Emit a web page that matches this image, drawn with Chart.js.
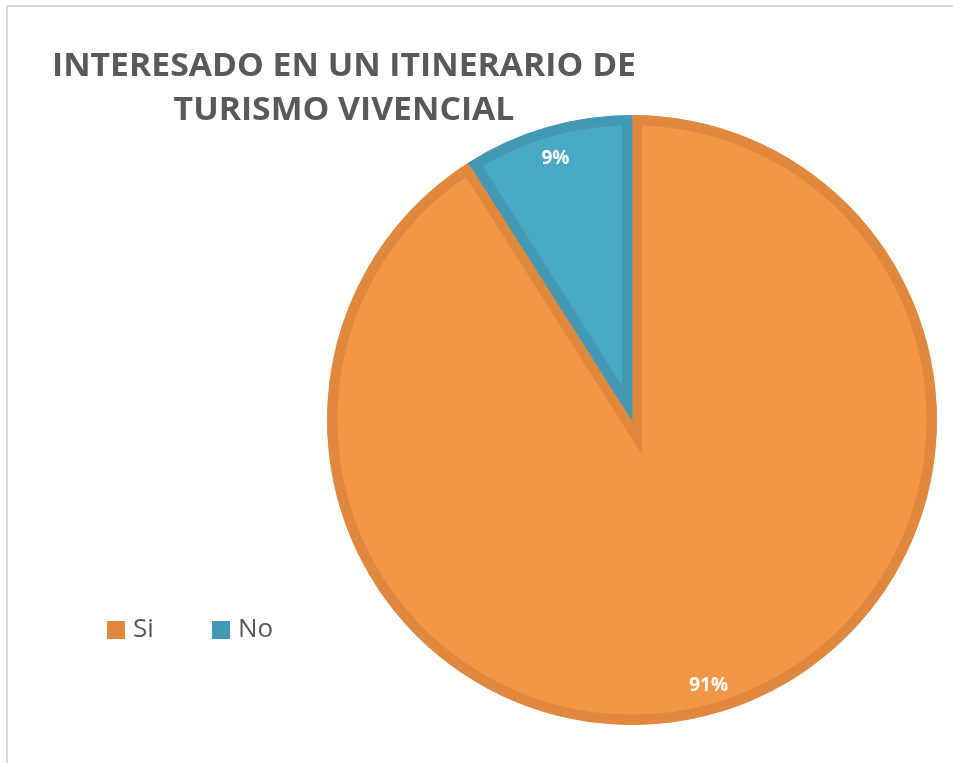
<!DOCTYPE html>
<html>
<head>
<meta charset="utf-8">
<script src="https://cdn.jsdelivr.net/npm/chart.js@4.4.1/dist/chart.umd.min.js"></script>
<style>
  html, body { margin: 0; padding: 0; background: #ffffff; }
  #wrap { width: 953px; height: 763px; position: relative; }
</style>
</head>
<body>
<div id="wrap"><canvas id="c" width="953" height="763"></canvas></div>
<script>
const titleLines = ["INTERESADO EN UN ITINERARIO DE", "TURISMO VIVENCIAL"];
const categories = ["Si", "No"];
const values = [91, 9];
const percentLabels = ["91%", "9%"];
const fillColors = ["#F39646", "#48A9C4"];
const edgeColors = ["#E0883E", "#4399B3"];

const framePlugin = {
  id: 'frame',
  beforeDraw(chart) {
    const ctx = chart.ctx;
    ctx.save();
    ctx.fillStyle = '#ffffff';
    ctx.fillRect(0, 0, chart.width, chart.height);
    ctx.strokeStyle = '#D9D9D9';
    ctx.lineWidth = 2;
    ctx.beginPath();
    ctx.moveTo(7, chart.height + 2);
    ctx.lineTo(7, 6);
    ctx.lineTo(chart.width + 2, 6);
    ctx.stroke();
    ctx.restore();
  }
};

const textPlugin = {
  id: 'texts',
  afterDraw(chart) {
    const ctx = chart.ctx;
    ctx.save();
    // Title
    ctx.fillStyle = '#595959';
    ctx.font = 'bold 33px "Open Sans"';
    ctx.textBaseline = 'alphabetic';
    ctx.textAlign = 'center';
    const w0 = ctx.measureText(titleLines[0]).width;
    const sx = 584 / w0;
    const cx = 344;
    const baselines = [76, 120];
    titleLines.forEach((t, i) => {
      ctx.save();
      ctx.translate(cx, baselines[i]);
      ctx.scale(sx, 1);
      ctx.fillText(t, 0, 0);
      ctx.restore();
    });

    // Data labels
    const meta = chart.getDatasetMeta(0);
    ctx.fillStyle = '#ffffff';
    ctx.font = 'bold 19px "Open Sans"';
    ctx.textBaseline = 'middle';
    ctx.textAlign = 'center';
    meta.data.forEach((arc, i) => {
      const p = arc.getProps(['x', 'y', 'startAngle', 'endAngle', 'outerRadius'], true);
      const mid = (p.startAngle + p.endAngle) / 2;
      const r = p.outerRadius * 0.9;
      ctx.fillText(percentLabels[i], p.x + Math.cos(mid) * r, p.y + Math.sin(mid) * r + 2);
    });

    // Legend
    const legendX = [107, 212];
    const legendY = 621;
    ctx.font = '26px "Open Sans"';
    ctx.textAlign = 'left';
    ctx.textBaseline = 'middle';
    categories.forEach((c, i) => {
      ctx.fillStyle = edgeColors[i];
      ctx.fillRect(legendX[i], legendY, 18, 18);
      ctx.fillStyle = '#595959';
      ctx.fillText(c, legendX[i] + 26, legendY + 9);
    });
    ctx.restore();
  }
};

new Chart(document.getElementById('c'), {
  type: 'pie',
  data: {
    labels: categories,
    datasets: [{
      data: values,
      backgroundColor: fillColors,
      borderColor: edgeColors,
      borderWidth: 10,
      borderAlign: 'inner',
      borderJoinStyle: 'miter',
      hoverOffset: 0
    }]
  },
  options: {
    responsive: false,
    animation: false,
    events: [],
    radius: 305,
    layout: { padding: { left: 327, right: 16, top: 115, bottom: 38 } },
    plugins: {
      legend: { display: false },
      title: { display: false },
      tooltip: { enabled: false }
    }
  },
  plugins: [framePlugin, textPlugin]
});
</script>
</body>
</html>
